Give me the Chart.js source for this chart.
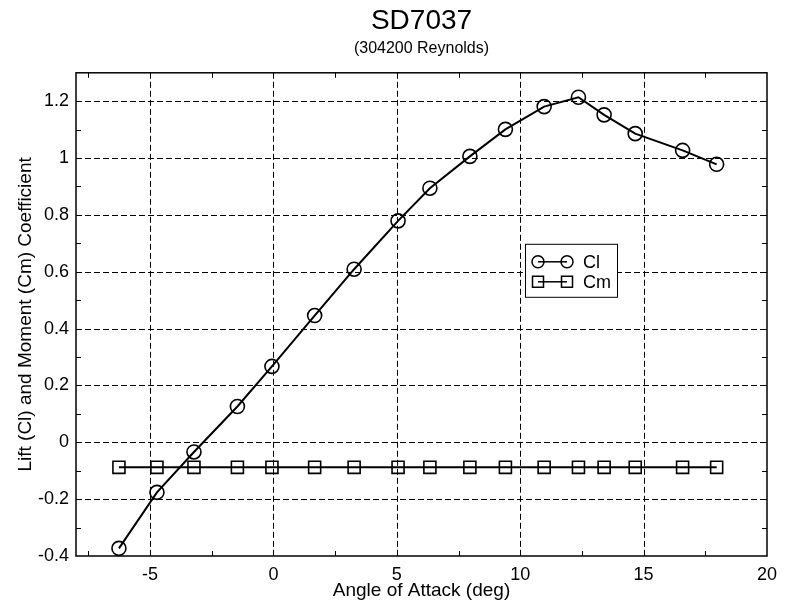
<!DOCTYPE html>
<html>
<head>
<meta charset="utf-8">
<script src="https://cdn.jsdelivr.net/npm/chart.js@4/dist/chart.umd.min.js"></script>
<style>
  body { margin: 0; background: #fff; }
  canvas { display: block; }
</style>
</head>
<body>
<canvas id="chart" width="787" height="604"></canvas>
<script>
// SD7037 polar, 304200 Reynolds
const alpha = [-6.26, -4.72, -3.22, -1.46, -0.06, 1.67, 3.27, 5.05, 6.34, 7.96, 9.40, 10.97, 12.36, 13.40, 14.66, 16.58, 17.96];
const cl = [-0.373, -0.176, -0.034, 0.126, 0.267, 0.446, 0.609, 0.779, 0.894, 1.006, 1.101, 1.181, 1.214, 1.152, 1.086, 1.027, 0.978];
const cm = [-0.088, -0.088, -0.088, -0.088, -0.088, -0.088, -0.088, -0.088, -0.088, -0.088, -0.088, -0.088, -0.088, -0.088, -0.088, -0.088, -0.088];

const xTickLabels = [-5, 0, 5, 10, 15, 20];
const yTickLabels = [-0.4, -0.2, 0, 0.2, 0.4, 0.6, 0.8, 1, 1.2];
const xMinorTicks = [-7.5, -5, -2.5, 0, 2.5, 5, 7.5, 10, 12.5, 15, 17.5];
const yMinorTicks = [-0.3, -0.2, -0.1, 0, 0.1, 0.2, 0.3, 0.4, 0.5, 0.6, 0.7, 0.8, 0.9, 1, 1.1, 1.2];
const seriesNames = ['Cl', 'Cm'];

const FONT = '"Liberation Sans", Arial, Helvetica, sans-serif';

// dashed grid, inward ticks on every side, box
const axesBox = {
  id: 'axesBox',
  beforeDatasetsDraw(chart) {
    const { ctx, chartArea: a, scales: { x, y } } = chart;
    ctx.save();
    ctx.strokeStyle = '#000';
    ctx.lineWidth = 1;
    ctx.setLineDash([6, 3]);
    xTickLabels.forEach(v => {
      const px = Math.round(x.getPixelForValue(v)) + 0.5;
      if (px > a.right - 2) return;
      ctx.beginPath(); ctx.moveTo(px, a.top); ctx.lineTo(px, a.bottom); ctx.stroke();
    });
    yTickLabels.forEach(v => {
      const py = Math.round(y.getPixelForValue(v)) + 0.5;
      if (py > a.bottom - 2) return;
      ctx.beginPath(); ctx.moveTo(a.left, py); ctx.lineTo(a.right, py); ctx.stroke();
    });
    ctx.setLineDash([]);
    const tl = 5;
    xMinorTicks.forEach(v => {
      const px = Math.round(x.getPixelForValue(v)) + 0.5;
      ctx.beginPath();
      ctx.moveTo(px, a.bottom); ctx.lineTo(px, a.bottom - tl);
      ctx.moveTo(px, a.top); ctx.lineTo(px, a.top + tl);
      ctx.stroke();
    });
    yMinorTicks.forEach(v => {
      const py = Math.round(y.getPixelForValue(v)) + 0.5;
      ctx.beginPath();
      ctx.moveTo(a.left, py); ctx.lineTo(a.left + tl, py);
      ctx.moveTo(a.right, py); ctx.lineTo(a.right - tl, py);
      ctx.stroke();
    });
    ctx.lineWidth = 1.5;
    ctx.strokeRect(a.left, a.top, a.right - a.left, a.bottom - a.top);
    ctx.restore();
  }
};

// MATLAB-style boxed legend
const boxLegend = {
  id: 'boxLegend',
  afterDraw(chart) {
    const { ctx, chartArea: a } = chart;
    const bx = a.left + 449, by = a.top + 171, bw = 92, bh = 53;
    ctx.save();
    ctx.fillStyle = '#fff';
    ctx.fillRect(bx, by, bw, bh);
    ctx.strokeStyle = '#000';
    ctx.lineWidth = 1;
    ctx.strokeRect(bx + 0.5, by + 0.5, bw, bh);
    ctx.font = '18px ' + FONT;
    ctx.textBaseline = 'middle';
    ctx.fillStyle = '#000';
    seriesNames.forEach((name, i) => {
      const yy = by + 18 + i * 20;
      const x1 = bx + 13, x2 = bx + 42;
      ctx.lineWidth = 1.5;
      ctx.beginPath(); ctx.moveTo(x1, yy); ctx.lineTo(x2, yy); ctx.stroke();
      [x1, x2].forEach(cx => {
        ctx.beginPath();
        if (i === 0) ctx.arc(cx, yy, 6, 0, Math.PI * 2);
        else ctx.rect(cx - 5.5, yy - 5.5, 11, 11);
        ctx.stroke();
      });
      ctx.fillText(name, bx + 58, yy + 1);
    });
    ctx.restore();
  }
};

const toPoints = (xs, ys) => xs.map((v, i) => ({ x: v, y: ys[i] }));

new Chart(document.getElementById('chart'), {
  type: 'scatter',
  data: {
    datasets: [
      {
        label: seriesNames[0],
        data: toPoints(alpha, cl),
        showLine: true,
        borderColor: '#000',
        borderWidth: 2,
        pointStyle: 'circle',
        pointRadius: 7,
        pointBorderWidth: 1.6,
        pointBackgroundColor: 'rgba(0,0,0,0)',
        pointBorderColor: '#000'
      },
      {
        label: seriesNames[1],
        data: toPoints(alpha, cm),
        showLine: true,
        borderColor: '#000',
        borderWidth: 2,
        pointStyle: 'rect',
        pointRadius: 8.5,
        pointBorderWidth: 1.6,
        pointBackgroundColor: 'rgba(0,0,0,0)',
        pointBorderColor: '#000'
      }
    ]
  },
  options: {
    responsive: false,
    animation: false,
    devicePixelRatio: 1,
    layout: { padding: { left: 0, right: 20, top: 0, bottom: 0 } },
    plugins: {
      legend: { display: false },
      tooltip: { enabled: false },
      title: {
        display: true,
        fullSize: false,
        text: 'SD7037',
        color: '#000',
        font: { family: FONT, size: 28, weight: 'normal' },
        padding: { top: 4, bottom: 0 }
      },
      subtitle: {
        display: true,
        fullSize: false,
        text: '(304200 Reynolds)',
        color: '#000',
        font: { family: FONT, size: 16, weight: 'normal' },
        padding: { top: 1, bottom: 15 }
      }
    },
    scales: {
      x: {
        type: 'linear',
        min: -8,
        max: 20,
        afterFit: s => { s.height = 48; },
        afterBuildTicks: s => { s.ticks = xTickLabels.map(v => ({ value: v })); },
        grid: { display: false, drawTicks: false },
        border: { display: false },
        ticks: { color: '#000', padding: 8, font: { family: FONT, size: 18 }, maxRotation: 0 },
        title: {
          display: true,
          text: 'Angle of Attack (deg)',
          color: '#000',
          font: { family: FONT, size: 19 },
          padding: { top: 0, bottom: 2 }
        }
      },
      y: {
        type: 'linear',
        min: -0.4,
        max: 1.3,
        afterFit: s => { s.width = 76; },
        afterBuildTicks: s => { s.ticks = yTickLabels.map(v => ({ value: v })); },
        grid: { display: false, drawTicks: false },
        border: { display: false },
        ticks: { color: '#000', padding: 7, font: { family: FONT, size: 18 }, callback: v => String(v) },
        title: {
          display: true,
          text: 'Lift (Cl) and Moment (Cm) Coefficient',
          color: '#000',
          font: { family: FONT, size: 19 },
          padding: { top: 14, bottom: 0 }
        }
      }
    }
  },
  plugins: [axesBox, boxLegend]
});
</script>
</body>
</html>
